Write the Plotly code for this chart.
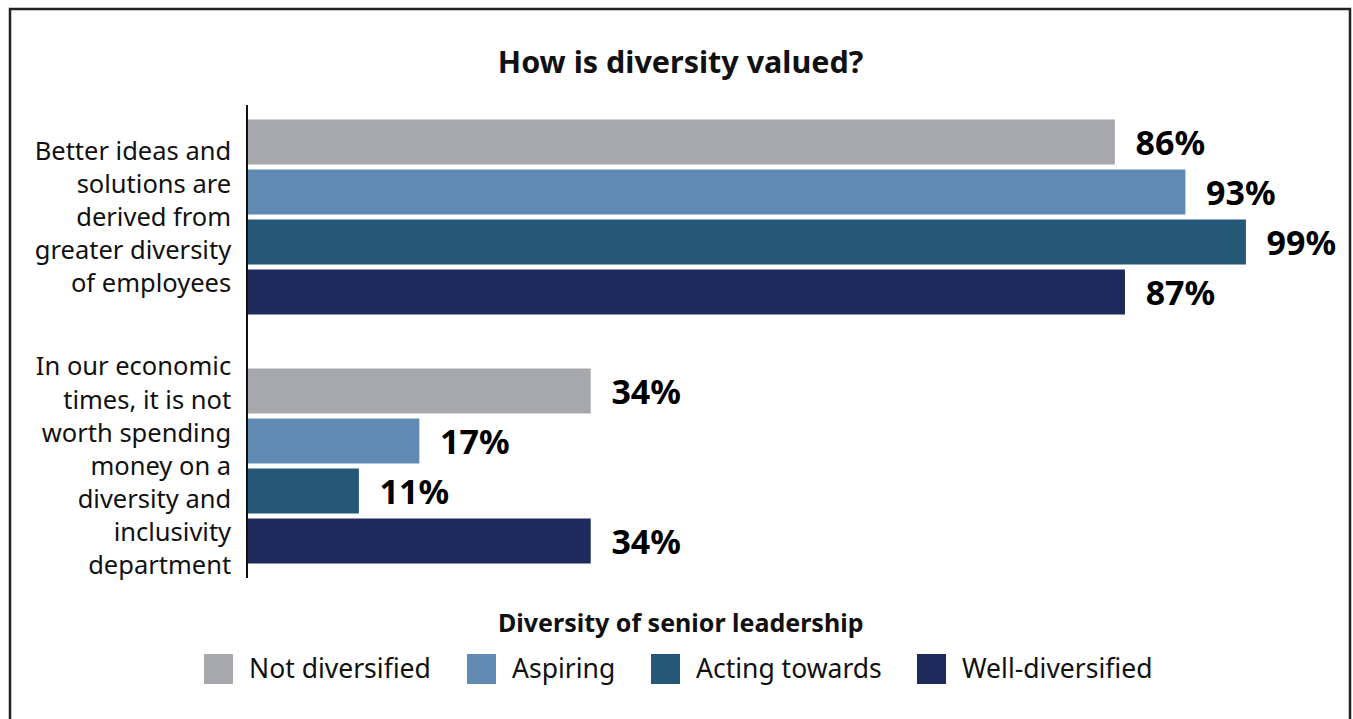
import plotly.graph_objects as go

# Survey statements (y categories) and the share agreeing, per leadership-diversity group
statements = [
    "Better ideas and<br>solutions are<br>derived from<br>greater diversity<br>of employees",
    "In our economic<br>times, it is not<br>worth spending<br>money on a<br>diversity and<br>inclusivity<br>department",
]
groups = ["Not diversified", "Aspiring", "Acting towards", "Well-diversified"]
not_diversified = [86, 34]
aspiring = [93, 17]
acting_towards = [99, 11]
well_diversified = [87, 34]

series = [not_diversified, aspiring, acting_towards, well_diversified]
colors = ["#A7A8AC", "#628BB4", "#255878", "#1F2A5C"]

FONT = "Noto Sans"
W, H = 1353, 719
ML, MR, MT, MB = 248, 97, 105, 141
PW, PH = W - ML - MR, H - MT - MB


def px_x(px):
    return (px - ML) / PW


def px_y(py):
    return (H - MB - py) / PH


fig = go.Figure()
for name, vals, col in zip(groups, series, colors):
    fig.add_trace(go.Bar(
        name=name,
        y=statements,
        x=vals,
        orientation="h",
        marker=dict(color=col, line=dict(width=0)),
        text=vals,
        texttemplate="\u00a0\u00a0%{x}%",
        textposition="outside",
        constraintext="none",
        cliponaxis=False,
        textfont=dict(family=FONT, size=34, color="#000000", weight="bold"),
        showlegend=False,
        hoverinfo="skip",
    ))

shapes = [
    # outer frame
    dict(type="rect", xref="paper", yref="paper",
         x0=px_x(10), x1=px_x(1350), y0=px_y(730), y1=px_y(9),
         line=dict(color="#222222", width=2.5), fillcolor="rgba(0,0,0,0)", layer="below"),
]
annotations = [
    dict(text="Diversity of senior leadership", xref="paper", yref="paper",
         x=px_x(680), y=px_y(622), xanchor="center", yanchor="middle", showarrow=False,
         font=dict(family=FONT, size=25, color="#111111", weight="bold")),
]

# legend swatches and labels
swatch_left = [204, 467, 651, 917]
for name, col, x0 in zip(groups, colors, swatch_left):
    shapes.append(dict(type="rect", xref="paper", yref="paper",
                       x0=px_x(x0), x1=px_x(x0 + 29), y0=px_y(684), y1=px_y(654),
                       line=dict(width=0), fillcolor=col))
    annotations.append(dict(text=name, xref="paper", yref="paper",
                            x=px_x(x0 + 43), y=px_y(668), xanchor="left", yanchor="middle",
                            showarrow=False,
                            font=dict(family=FONT, size=26.5, color="#111111")))

fig.update_layout(
    width=W, height=H,
    margin=dict(l=ML, r=MR, t=MT, b=MB, autoexpand=False),
    paper_bgcolor="white", plot_bgcolor="white",
    barmode="group", bargap=0.196, bargroupgap=0.1,
    title=dict(text="How is diversity valued?", xref="container", x=0.503,
               yref="container", y=1 - 62 / H, xanchor="center", yanchor="middle",
               font=dict(family=FONT, size=30.5, color="#111111", weight="bold")),
    xaxis=dict(range=[0, 100], showgrid=False, zeroline=False, showticklabels=False,
               ticks="", showline=False),
    yaxis=dict(range=[1.45, -0.45], showgrid=False, zeroline=False, ticks="",
               showline=True, linecolor="#111111", linewidth=1.5,
               ticklabelstandoff=10,
               tickfont=dict(family=FONT, size=25.5, color="#111111")),
    shapes=shapes,
    annotations=annotations,
    font=dict(family=FONT),
)

fig.write_html("out.html")
